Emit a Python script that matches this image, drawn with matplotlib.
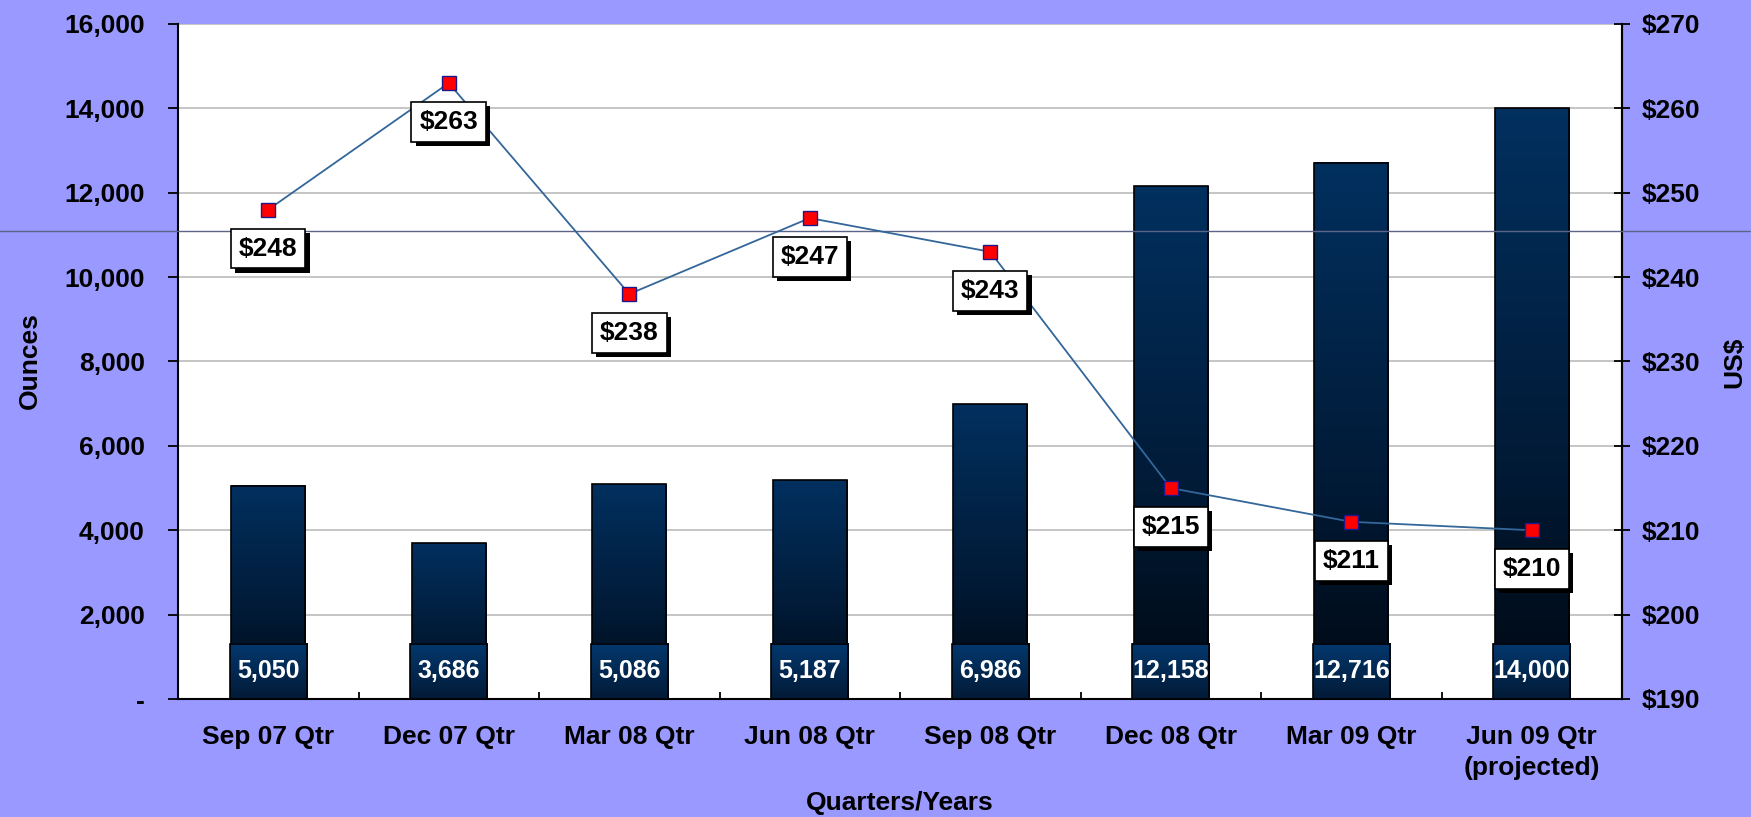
import numpy as np
import matplotlib
matplotlib.use("Agg")
import matplotlib.pyplot as plt
from matplotlib.colors import LinearSegmentedColormap
from matplotlib.patches import Rectangle
from matplotlib.lines import Line2D
import matplotlib.patheffects as pe

# ---- data ----
categories = ["Sep 07 Qtr", "Dec 07 Qtr", "Mar 08 Qtr", "Jun 08 Qtr",
              "Sep 08 Qtr", "Dec 08 Qtr", "Mar 09 Qtr", "Jun 09 Qtr\n(projected)"]
ounces = [5050, 3686, 5086, 5187, 6986, 12158, 12716, 14000]
cost_usd = [248, 263, 238, 247, 243, 215, 211, 210]
left_ticks = [0, 2000, 4000, 6000, 8000, 10000, 12000, 14000, 16000]
right_ticks = [190, 200, 210, 220, 230, 240, 250, 260, 270]

FONT = "Liberation Sans"
plt.rcParams["font.family"] = [FONT, "DejaVu Sans"]
plt.rcParams["font.weight"] = "bold"
FS = 19

BG = "#9999FF"
NAVY = "#02305F"

fig = plt.figure(figsize=(17.51, 8.17), dpi=100, facecolor=BG)
ax = fig.add_axes([178 / 1751, 1 - 699 / 817, (1622 - 178) / 1751, (699 - 24) / 817])
ax.set_facecolor("white")

x = np.arange(len(categories))
bar_w = 0.41
bars = ax.bar(x, ounces, width=bar_w, facecolor="none", edgecolor="black",
              linewidth=1.2, zorder=3)

cmap = LinearSegmentedColormap.from_list(
    "barfade", [(0.0, "#000811"), (0.4, "#011a36"), (1.0, NAVY)])
grad = np.linspace(0, 1, 256).reshape(-1, 1)
for b in bars:
    x0, y0 = b.get_x(), b.get_y()
    ax.imshow(grad, extent=[x0, x0 + b.get_width(), y0, y0 + b.get_height()],
              origin="lower", cmap=cmap, aspect="auto", zorder=2.5,
              interpolation="bilinear")

# value boxes at the foot of each bar
box_w = 0.427
box_h = 1304
box_cmap = LinearSegmentedColormap.from_list("boxfade", ["#021a36", "#03386e"])
for xi, v in zip(x, ounces):
    ax.imshow(grad, extent=[xi - box_w / 2, xi + box_w / 2, 0, box_h],
              origin="lower", cmap=box_cmap, aspect="auto", zorder=4,
              interpolation="bilinear")
    ax.add_patch(Rectangle((xi - box_w / 2, 0), box_w, box_h, facecolor="none",
                           edgecolor="black", linewidth=1.2, zorder=4.5))
    ax.text(xi, box_h / 2, f"{v:,}", ha="center", va="center", color="white",
            fontsize=18, fontweight="bold", zorder=5)

ax.set_xlim(-0.5, len(categories) - 0.5)
ax.set_ylim(left_ticks[0], left_ticks[-1])
ax.set_yticks(left_ticks)
ax.set_yticklabels(["-" if t == 0 else f"{t:,}" for t in left_ticks])
ax.yaxis.grid(True, color="#c0c0c0", linewidth=1.3, zorder=0)
ax.set_axisbelow(True)
ax.tick_params(axis="y", direction="out", length=7, width=1.3, pad=17,
               labelsize=FS, colors="black")
ax.set_xticks(x)
ax.set_xticklabels(categories, fontsize=FS, fontweight="bold", linespacing=1.35)
ax.tick_params(axis="x", which="major", length=0, pad=19)
ax.set_xticks(np.arange(0.5, len(categories) - 0.5, 1.0), minor=True)
ax.tick_params(axis="x", which="minor", direction="in", length=5, width=1.3)
for lab in ax.get_yticklabels():
    lab.set_fontweight("bold")
for s in ["left", "bottom", "right"]:
    ax.spines[s].set_linewidth(1.5)
    ax.spines[s].set_color("black")
ax.spines["top"].set_visible(False)

ax2 = ax.twinx()
ax2.set_ylim(right_ticks[0], right_ticks[-1])
ax2.set_yticks(right_ticks)
ax2.set_yticklabels([f"${t}" for t in right_ticks])
ax2.tick_params(axis="y", direction="inout", length=12, width=1.3, pad=8,
                labelsize=FS)
for lab in ax2.get_yticklabels():
    lab.set_fontweight("bold")
for s in ["left", "top", "bottom"]:
    ax2.spines[s].set_visible(False)
ax2.spines["right"].set_linewidth(1.5)

ax2.plot(x, cost_usd, color="#336699", linewidth=1.3, marker="s",
         markersize=10, markerfacecolor="red", markeredgecolor="#1a1a8c",
         markeredgewidth=1.0, zorder=5)

for xi, c in zip(x, cost_usd):
    an = ax2.annotate(f"${c}", xy=(xi, c), xytext=(0, -28), textcoords="offset points",
                      ha="center", va="center", fontsize=FS, fontweight="bold",
                      color="black", zorder=7,
                      bbox=dict(boxstyle="square,pad=0.3", facecolor="white",
                                edgecolor="black", linewidth=1.2))
    an.get_bbox_patch().set_path_effects([
        pe.SimplePatchShadow(offset=(3, -3), shadow_rgbFace="black", alpha=1.0),
        pe.Normal()])

# thin horizontal rule running across the whole picture
ax2.add_line(Line2D([0, 1], [1 - 231 / 817] * 2, transform=fig.transFigure,
                    color="#5c6488", linewidth=1.0, clip_on=False, zorder=4))

fig.text(900 / 1751, 1 - 803 / 817, "Quarters/Years", ha="center", va="center",
         fontsize=FS, fontweight="bold")
fig.text(30 / 1751, 1 - 361 / 817, "Ounces", ha="center", va="center",
         rotation=90, fontsize=FS, fontweight="bold")
fig.text(1734 / 1751, 1 - 362 / 817, "US$", ha="center", va="center",
         rotation=90, fontsize=FS, fontweight="bold")

fig.savefig("out.png", dpi=100, facecolor=BG)
